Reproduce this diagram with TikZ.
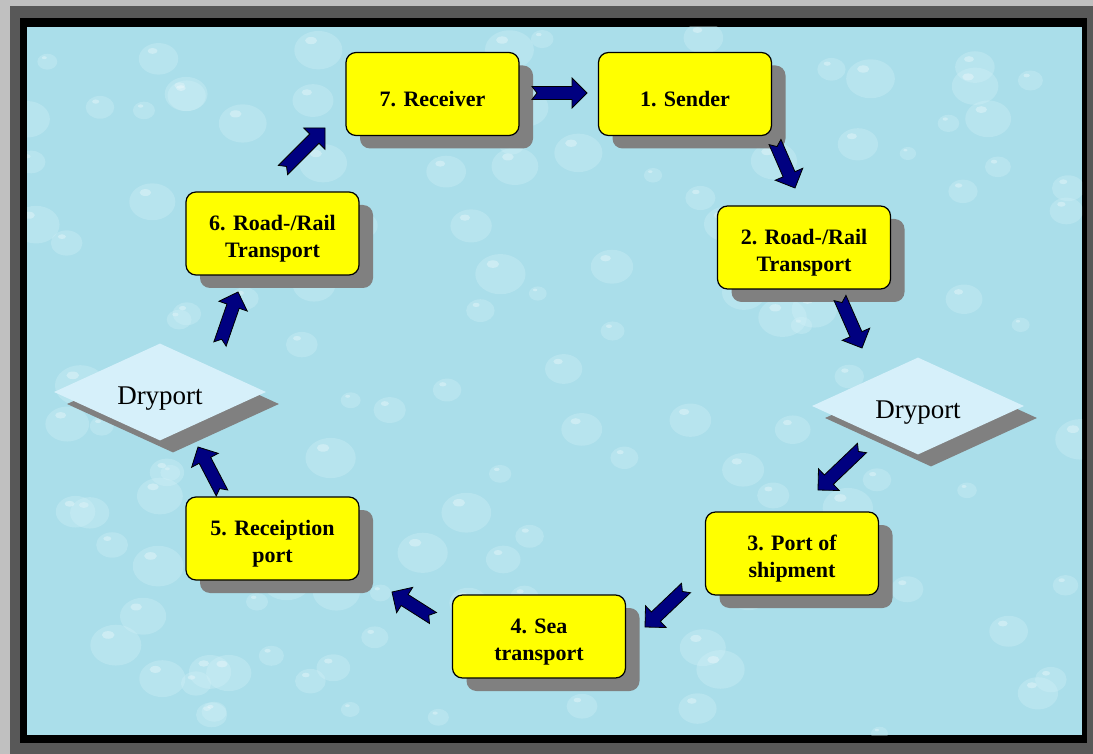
\documentclass[tikz,border=0pt]{standalone}
\usepackage{fontspec}
\setmainfont{Liberation Serif}
\usepackage{tikz}
\usetikzlibrary{calc}
\usetikzlibrary{shapes.geometric}
\usetikzlibrary{shadows}

\definecolor{water}{RGB}{170,222,234}
\definecolor{dropcol}{RGB}{214,242,248}
\definecolor{boxyellow}{RGB}{255,255,0}
\definecolor{shade}{RGB}{128,128,128}
\definecolor{arrownavy}{RGB}{0,0,128}
\definecolor{dryblue}{RGB}{214,240,250}
\definecolor{frameouter}{RGB}{192,192,192}
\definecolor{framemid}{RGB}{88,88,88}

% lift for the first line of a label
\newcommand{\lift}[1]{\rule{0pt}{#1}}

% notched block arrow from #1 (tail) to #2 (tip)
\newcommand{\flow}[2]{%
	\coordinate (ft) at (#1);
	\coordinate (fh) at (#2);
	\coordinate (fb) at ($(fh)!15pt!(ft)$);
	\filldraw[flowarrow] ($(ft)!6.5pt!90:(fh)$) -- ($(fb)!6.5pt!-90:(ft)$)
		-- ($(fb)!15pt!-90:(ft)$) -- (fh) -- ($(fb)!15pt!90:(ft)$)
		-- ($(fb)!6.5pt!90:(ft)$) -- ($(ft)!6.5pt!-90:(fh)$) -- ($(ft)!5pt!(fh)$) -- cycle;
}

\tikzset{
	stage/.style={draw=black,line width=1.2pt,fill=boxyellow,rounded corners=10pt,
		minimum width=173pt,minimum height=83pt,align=center,
		font=\fontsize{22}{27}\selectfont\bfseries,
		drop shadow={shadow xshift=14pt,shadow yshift=-13pt,fill=shade,opacity=1}},
	dryport/.style={diamond,aspect=2.2,fill=dryblue,minimum width=212pt,minimum height=97pt,inner sep=0pt,
		font=\fontsize{27}{30}\selectfont,
		drop shadow={shadow xshift=13pt,shadow yshift=-12pt,fill=shade,opacity=1}},
	flowarrow/.style={fill=arrownavy,draw=black,line width=0.8pt,line join=miter}
}

\begin{document}
\begin{tikzpicture}[x=1pt,y=-1pt]
\useasboundingbox (0,0) rectangle (1093,754);

%frame
\fill[frameouter] (0,0) rectangle (1093,754);
\fill[framemid] (10,6) rectangle (1093,754);
\fill[black] (20,18) rectangle (1087,743);
\fill[water] (27,27) rectangle (1082,735);

%drops
\pgfmathsetseed{7}
\begin{scope}
\clip (27,27) rectangle (1082,735);
\foreach \i in {1,...,140}{
	\pgfmathsetmacro{\px}{27+1055*rnd}
	\pgfmathsetmacro{\py}{27+708*rnd}
	\pgfmathsetmacro{\r}{8+18*rnd}
	\fill[dropcol,opacity=0.3] (\px,\py) ellipse ({\r} and {0.8*\r});
	\fill[white,opacity=0.3] (\px-0.3*\r,\py-0.4*\r) ellipse ({0.25*\r} and {0.15*\r});
}
\end{scope}

%stages
\foreach \name/\x/\y/\txt in {rcv/432.5/94/{7. Receiver},snd/685/94/{1. Sender},
	rr2/804/247.5/{2. Road-/Rail\\Transport},port/792/553.5/{3. Port of\\shipment},
	sea/539/636.5/{4. Sea\\transport},recp/272.5/538.5/{5. Receiption\\port},
	rr6/272.5/233.5/{6. Road-/Rail\\Transport}}
	\node[stage] (\name) at (\x,\y) {\lift{25pt}\txt};

%dryports
\node[dryport] (dp1) at (160,392) {\lift{30pt}Dryport};
\node[dryport] (dp2) at (918,406) {\lift{30pt}Dryport};

%arrows
\flow{$(rcv)+(99.5,-1)$}{$(snd)+(-98,-1)$}
\flow{$(snd)+(90,48)$}{$(rr2)+(-9,-59.5)$}
\flow{$(rr2)+(36,50.5)$}{$(dp2)+(-56,-58)$}
\flow{$(dp2)+(-56,42)$}{$(port)+(26,-63.5)$}
\flow{$(port)+(-106,34.5)$}{$(sea)+(106,-9.5)$}
\flow{$(sea)+(-106,-18.5)$}{$(recp)+(119.5,53.5)$}
\flow{$(recp)+(-50.5,-45.5)$}{$(dp1)+(38,55)$}
\flow{$(dp1)+(60,-48)$}{$(rr6)+(-34.5,58.5)$}
\flow{$(rr6)+(10.5,-63.5)$}{$(rcv)+(-107.5,34)$}
\end{tikzpicture}
\end{document}
